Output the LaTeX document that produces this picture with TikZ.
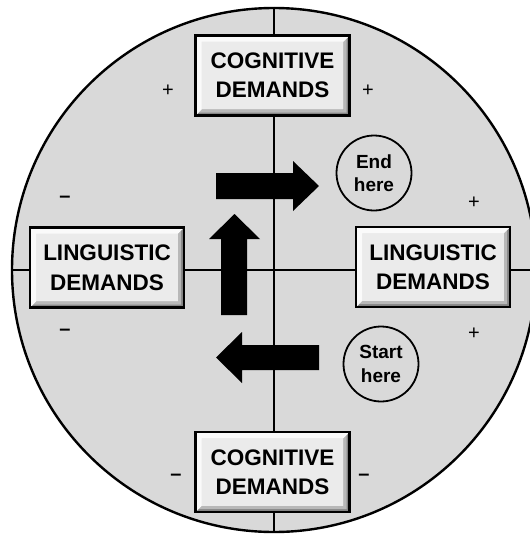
\documentclass[tikz,border=0pt]{standalone}
\usepackage{fontspec}
\setmainfont{Liberation Sans}
\definecolor{disc}{HTML}{D9D9D9}
\definecolor{boxface}{HTML}{EBEBEB}
\definecolor{bevlight}{HTML}{FAFAFA}
\definecolor{bevmid}{HTML}{B8B8B8}
\definecolor{bevdark}{HTML}{858585}
\tikzset{
  bevelpic/.style={path picture={
    \fill[bevdark] (path picture bounding box.south west) -- (path picture bounding box.south east) -- (path picture bounding box.north east)
      -- ([xshift=-6pt,yshift=-6pt]path picture bounding box.north east) -- ([xshift=-6pt,yshift=6pt]path picture bounding box.south east)
      -- ([xshift=6pt,yshift=6pt]path picture bounding box.south west) -- cycle;
    \fill[bevmid] ([xshift=-3pt,yshift=-3pt]path picture bounding box.north east) -- ([xshift=-3pt,yshift=3pt]path picture bounding box.south east)
      -- ([xshift=3pt,yshift=3pt]path picture bounding box.south west) -- ([xshift=6pt,yshift=6pt]path picture bounding box.south west)
      -- ([xshift=-6pt,yshift=6pt]path picture bounding box.south east) -- ([xshift=-6pt,yshift=-6pt]path picture bounding box.north east) -- cycle;
    \fill[bevlight] (path picture bounding box.south west) -- (path picture bounding box.north west) -- (path picture bounding box.north east)
      -- ([xshift=-6pt,yshift=-6pt]path picture bounding box.north east) -- ([xshift=6pt,yshift=-6pt]path picture bounding box.north west)
      -- ([xshift=6pt,yshift=6pt]path picture bounding box.south west) -- cycle;
  }},
  demandbox/.style={draw=black, line width=2.2pt, fill=boxface, bevelpic,
    minimum width=154pt, minimum height=80pt, inner sep=0pt, align=center,
    font=\bfseries\fontsize{22.5}{29.5}\selectfont},
  herecircle/.style={circle, draw=black, line width=1.8pt, minimum size=75pt, inner sep=0pt,
    align=center, font=\bfseries\fontsize{19}{23.5}\selectfont},
  sign/.style={inner sep=0pt, font=\fontsize{20}{20}\selectfont},
  minussign/.style={inner sep=0pt, font=\bfseries\fontsize{20}{20}\selectfont},
  blockarrow/.style={fill=black, draw=none},
  axis/.style={draw=black, line width=2pt},
}
\begin{document}
\begin{tikzpicture}[x=1pt,y=-1pt]
\useasboundingbox (0,0) rectangle (530,536);
\begin{scope}
\clip (0,0) rectangle (530,536);
\fill[white] (0,0) rectangle (530,536);
\node[circle, fill=disc, draw=black, line width=2.4pt, minimum size=524pt, inner sep=0pt] (disc) at (274,270) {};
\coordinate (ctop) at (disc.north);
\coordinate (cbot) at (disc.south);
\coordinate (cleft) at (disc.west);
\coordinate (cright) at (disc.east);
\draw[axis] (ctop) -- (cbot);
\draw[axis] (cleft) -- (cright);
\end{scope}

% block arrows
\fill[blockarrow] (216,173) -- (293,173) -- (293,161) -- (319,186) -- (293,211) -- (293,199) -- (216,199) -- cycle;
\fill[blockarrow] (221,315) -- (221,239) -- (209,239) -- (234.5,214) -- (260,239) -- (247,239) -- (247,315) -- cycle;
\fill[blockarrow] (319,345) -- (242,345) -- (242,332) -- (216,357.5) -- (242,383) -- (242,370) -- (319,370) -- cycle;

% boxes
\node[demandbox] (cogtop) at (272.5,75.5) {COGNITIVE\\DEMANDS};
\node[demandbox] (cogbot) at (272.5,472) {COGNITIVE\\DEMANDS};
\node[demandbox] (linleft) at (107,267.5) {LINGUISTIC\\DEMANDS};
\node[demandbox] (linright) at (433,267) {LINGUISTIC\\DEMANDS};

% start / end circles
\node[herecircle, fill=disc] (endc) at (374,173) {End\\here};
\node[herecircle, fill=disc] (startc) at (381,364) {Start\\here};

% signs
\node[sign] (p1) at (168,91) {+};
\node[sign] (p2) at (368,91) {+};
\node[sign] (p3) at (474,203) {+};
\node[sign] (p4) at (474,334) {+};
\node[minussign] (m1) at (65,199) {–};
\node[minussign] (m2) at (65,332) {–};
\node[minussign] (m3) at (176,477) {–};
\node[minussign] (m4) at (364,477) {–};
\end{tikzpicture}
\end{document}
